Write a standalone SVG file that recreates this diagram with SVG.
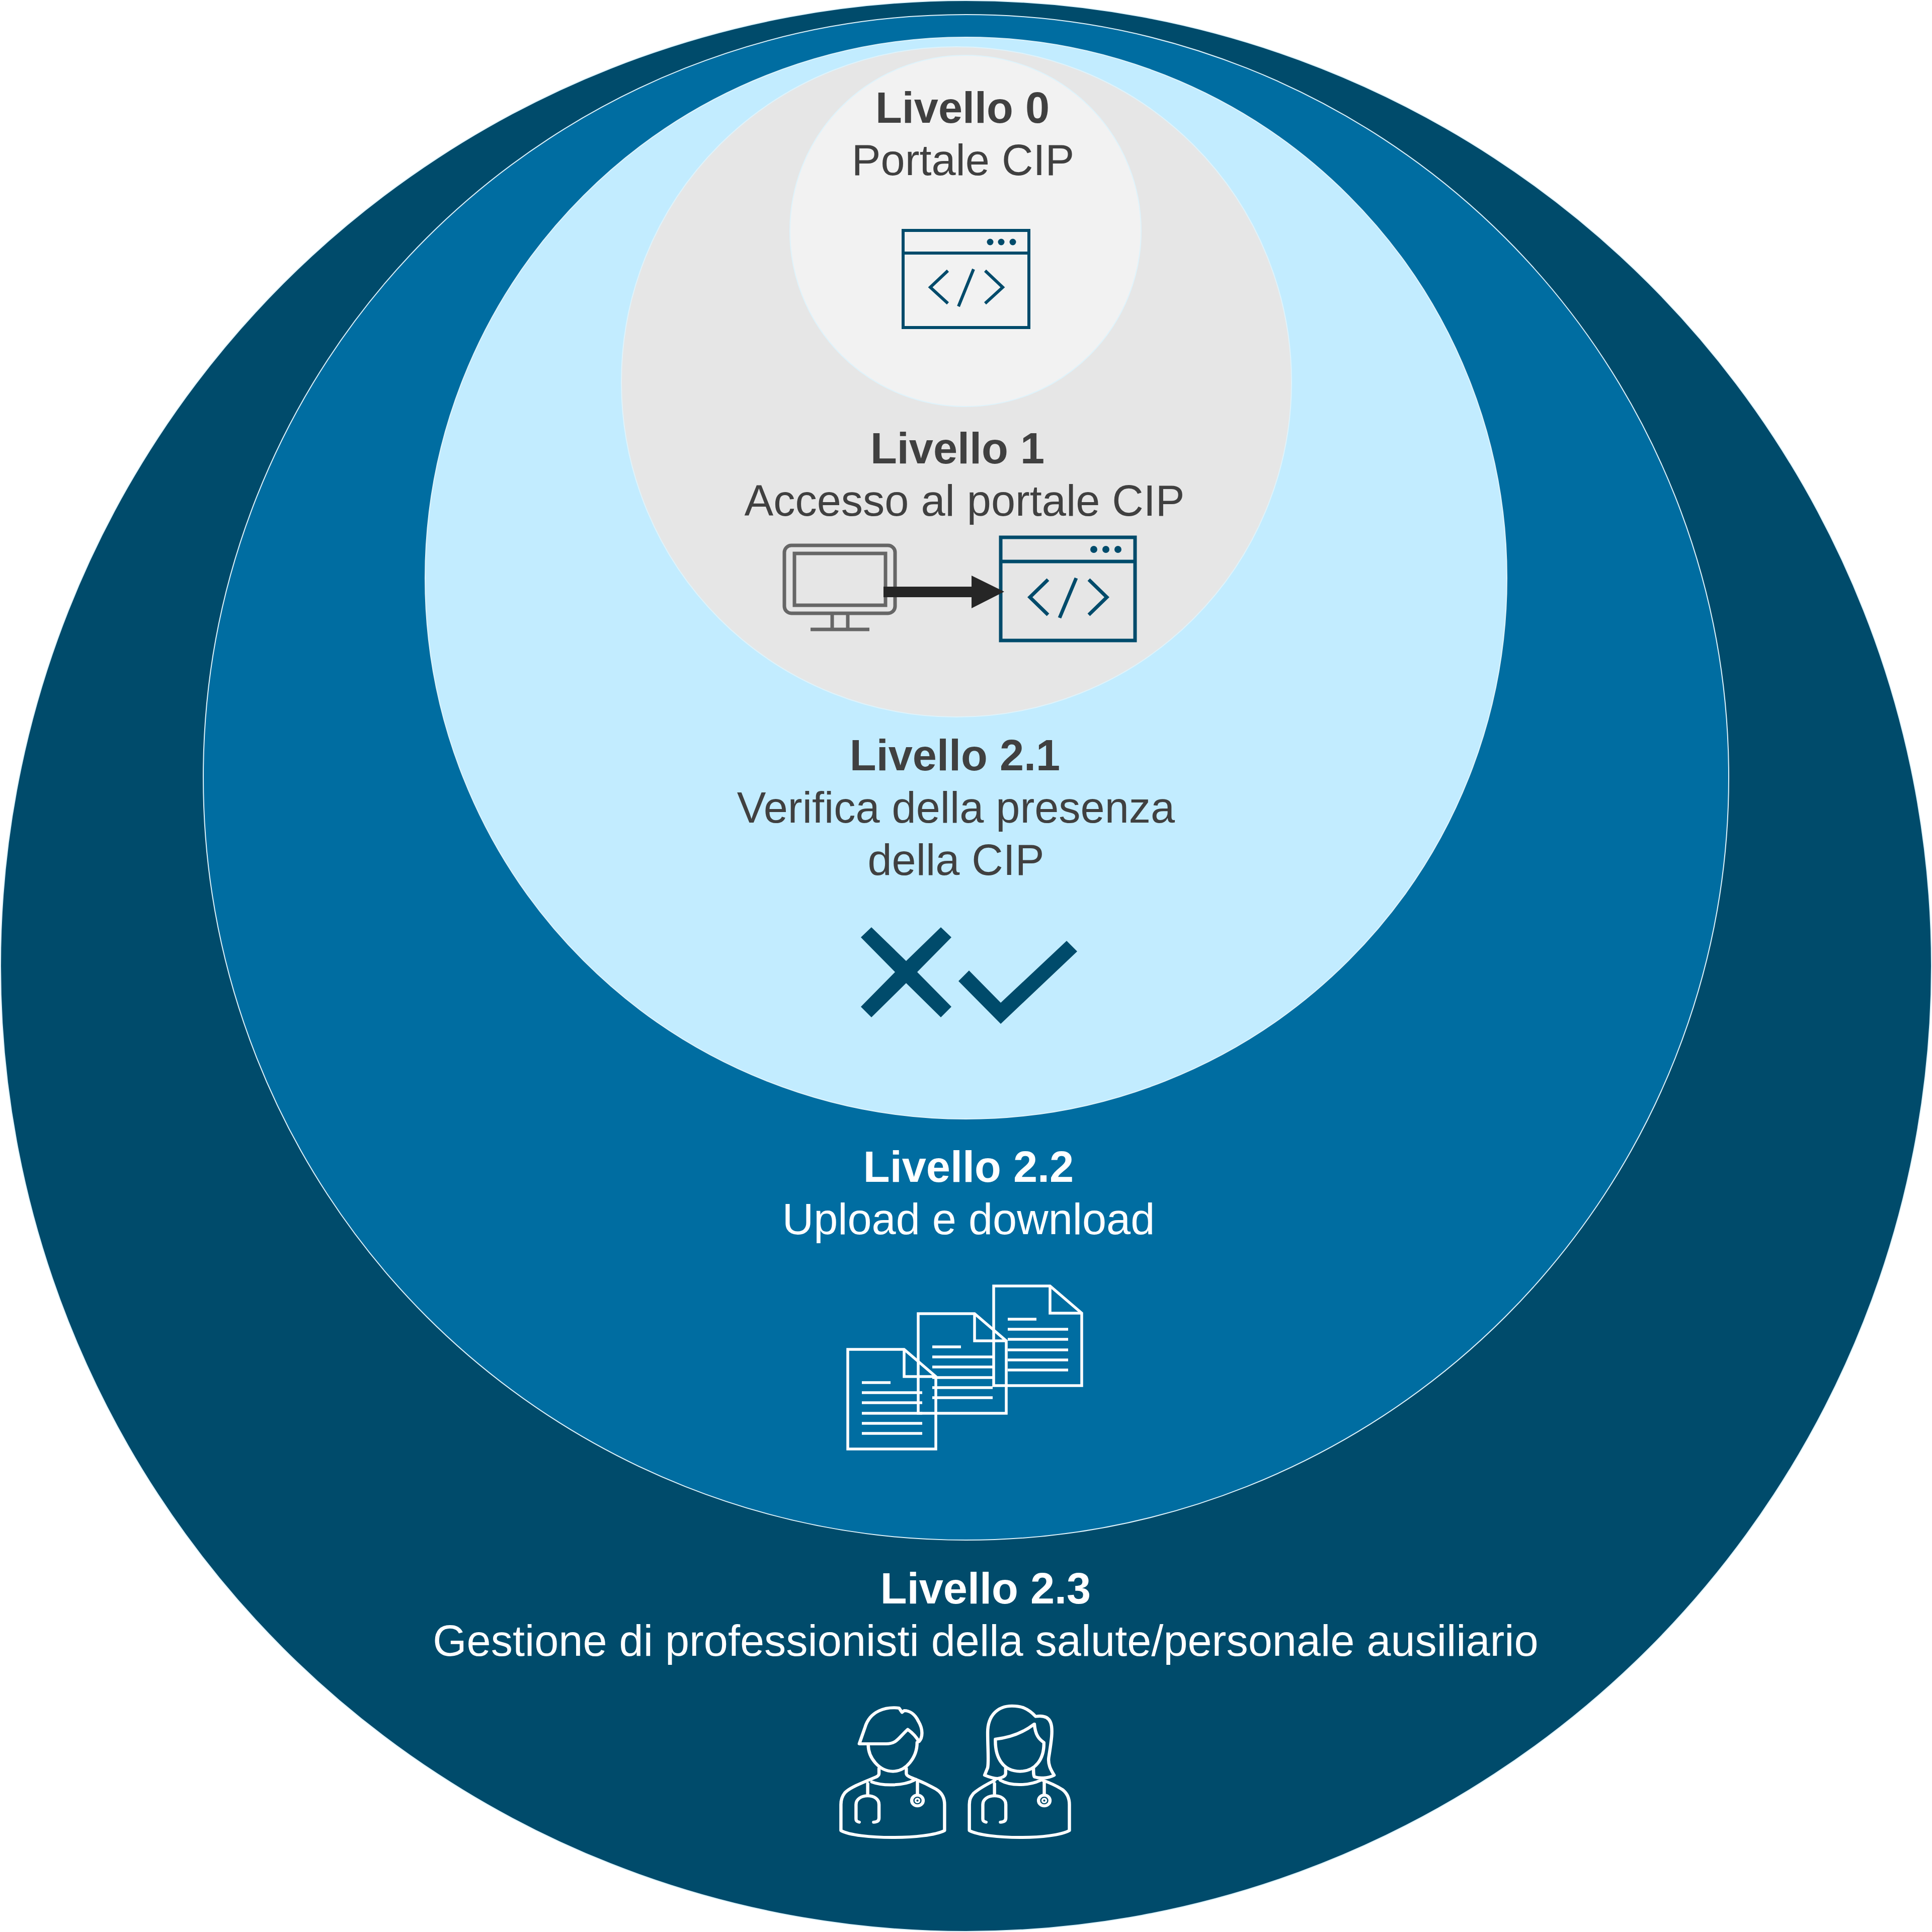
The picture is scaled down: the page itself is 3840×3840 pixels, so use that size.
<svg xmlns="http://www.w3.org/2000/svg" xmlns:xlink="http://www.w3.org/1999/xlink" width="3840" height="3840" viewBox="0 0 3840 3840">
<style>
text{font-family:"Liberation Sans",Arial,sans-serif;font-size:86.5px;text-anchor:middle}
.b{font-weight:bold}
.d{fill:#404040}
.w{fill:#fff}
.c{stroke:#dff3fb;stroke-width:2}
.navy{fill:none;stroke:#004b6b}
.dot{fill:#004b6b}
.wl{fill:none;stroke:#fff;stroke-width:5.5}
.p{fill:none;stroke:#fff;stroke-width:18;stroke-linecap:round;stroke-linejoin:round}
.g{fill:none;stroke:#666;stroke-width:7}
</style>
<defs>
<g id="doc" class="wl">
<path d="M1685 2682H1797L1860 2736V2880H1685Z"/>
<path d="M1797 2682V2736H1860"/>
<path d="M1713 2748H1770M1713 2768H1833M1713 2788H1833M1713 2809H1833M1713 2829H1833M1713 2849H1833"/>
</g>
<g id="stetho" class="p">
<path d="M237 555V628M190 785C170 780 172 770 172 760V680C172 645 205 628 237 628C270 628 300 645 300 680V760C300 780 285 785 270 785"/>
<path d="M514 540V620"/>
<circle cx="514" cy="656" r="32"/>
<circle cx="514" cy="656" r="11" stroke-width="10"/>
</g>
</defs>
<rect width="3840" height="3840" fill="#fff"/>
<g id="livello-2-3">
<circle cx="1920" cy="1920" r="1919" fill="#004b6b" class="c"/>
</g>
<g id="livello-2-2">
<circle cx="1920" cy="1545" r="1516" fill="#006da1" class="c"/>
</g>
<g id="livello-2-1">
<circle cx="1920" cy="1149" r="1075" fill="#c2ecff" class="c"/>
</g>
<g id="livello-1">
<circle cx="1901" cy="759" r="666" fill="#e6e6e6" class="c"/>
</g>
<g id="livello-0">
<circle cx="1919" cy="459" r="349" fill="#f2f2f2" class="c"/>
<text class="b d" x="1913" y="244">Livello 0</text>
<text class="d" x="1914" y="348">Portale CIP</text>
<g id="icon-window-0" class="navy" stroke-width="6">
<path d="M1795 458H2045V651H1795Z"/>
<path d="M1795 503H2045M1884 538L1849 571L1884 603M1935 535L1905 609M1958 538L1993 571L1958 603"/>
<g class="dot" stroke="none"><ellipse cx="1968" cy="481" rx="6.5" ry="6.5"/><ellipse cx="1990" cy="481" rx="6.5" ry="6.5"/><ellipse cx="2013" cy="481" rx="6.5" ry="6.5"/></g>
</g>
</g>
<g id="text-livello-1">
<text class="b d" x="1903" y="921">Livello 1</text>
<text class="d" x="1917" y="1025">Accesso al portale CIP</text>
<g id="icon-monitor" class="g">
<rect x="1559" y="1084" width="220" height="135" rx="14"/>
<path d="M1579 1100H1760V1203H1579Z"/>
<path d="M1654 1222V1250M1685 1222V1250M1611 1251H1728"/>
</g>
<g id="icon-window-1" class="navy" stroke-width="7">
<path d="M1989 1068H2256V1273H1989Z"/>
<path d="M1989 1116H2256M2083 1152L2047 1187L2083 1222M2139 1149L2106 1228M2164 1152L2200 1187L2164 1222"/>
<g class="dot" stroke="none"><ellipse cx="2174" cy="1092" rx="7" ry="7"/><ellipse cx="2198" cy="1092" rx="7" ry="7"/><ellipse cx="2222" cy="1092" rx="7" ry="7"/></g>
</g>
</g>
<g id="connectors">
<path d="M1756 1166H1931V1144L1996 1176L1931 1209V1187H1756Z" fill="#262626"/>
</g>
<g id="text-livello-2-1">
<text class="b d" x="1898" y="1531">Livello 2.1</text>
<text class="d" x="1900" y="1635">Verifica della presenza</text>
<text class="d" x="1900" y="1739">della CIP</text>
<g id="icon-cross-check" fill="#004b6b">
<path d="M1732 1843L1801 1910L1870 1843L1891 1863L1823 1932L1891 2001L1870 2022L1801 1954L1732 2022L1711 2001L1779 1932L1711 1863Z"/>
<path d="M1926 1929L1989 1993L2120 1870L2141 1891L1989 2035L1905 1950Z"/>
</g>
</g>
<g id="text-livello-2-2">
<text class="b w" x="1925" y="2349">Livello 2.2</text>
<text class="w" x="1925" y="2453">Upload e download</text>
<g id="icon-docs">
<use xlink:href="#doc" href="#doc"/>
<use xlink:href="#doc" href="#doc" transform="translate(140 -71)"/>
<use xlink:href="#doc" href="#doc" transform="translate(290 -126)"/>
</g>
</g>
<g id="text-livello-2-3">
<text class="b w" x="1959" y="3187">Livello 2.3</text>
<text class="w" x="1959" y="3291">Gestione di professionisti della salute/personale ausiliario</text>
<g id="icon-people" transform="translate(1640 3360) scale(.357 .3333)">
<g id="doctor-m" class="p">
<path d="M285 515C230 540 140 575 110 610C95 630 88 650 88 680V835C180 890 565 890 665 835V680C665 640 650 610 620 590C580 565 540 545 505 530"/>
<path d="M300 465V495C300 505 295 510 285 515M452 465V495C452 510 480 520 505 530"/>
<path d="M260 545C320 570 430 570 495 535"/>
<path d="M240 325C240 400 300 482 378 482C450 482 512 400 512 310"/>
<path d="M190 318H340C400 318 410 280 460 232C490 255 510 280 522 305C545 280 545 230 520 185C500 140 470 120 440 120L428 130L412 105C340 95 250 120 222 220Z"/>
</g>
<use xlink:href="#stetho" href="#stetho"/>
<g id="doctor-f" class="p">
<path d="M945 535C880 570 850 590 825 615C810 635 803 650 803 680V835C900 890 1270 890 1360 835V680C1360 640 1345 610 1320 590C1290 570 1250 550 1210 535"/>
<path d="M1005 465V495C1005 510 985 520 960 525C935 525 910 515 888 505L905 460C912 420 905 350 905 250C905 150 960 92 1040 92C1090 92 1130 105 1172 155C1200 150 1240 150 1255 190C1270 230 1260 300 1245 400C1240 440 1255 470 1275 505C1240 525 1190 525 1165 515C1160 505 1160 495 1160 465"/>
<path d="M975 535C1030 570 1130 570 1200 535"/>
<path d="M948 290C945 400 990 482 1085 482C1170 482 1220 410 1218 310C1190 290 1170 265 1165 200C1110 245 1040 280 948 290Z"/>
</g>
<use xlink:href="#stetho" href="#stetho" transform="translate(706 0)"/>
</g>
</g>
</svg>
